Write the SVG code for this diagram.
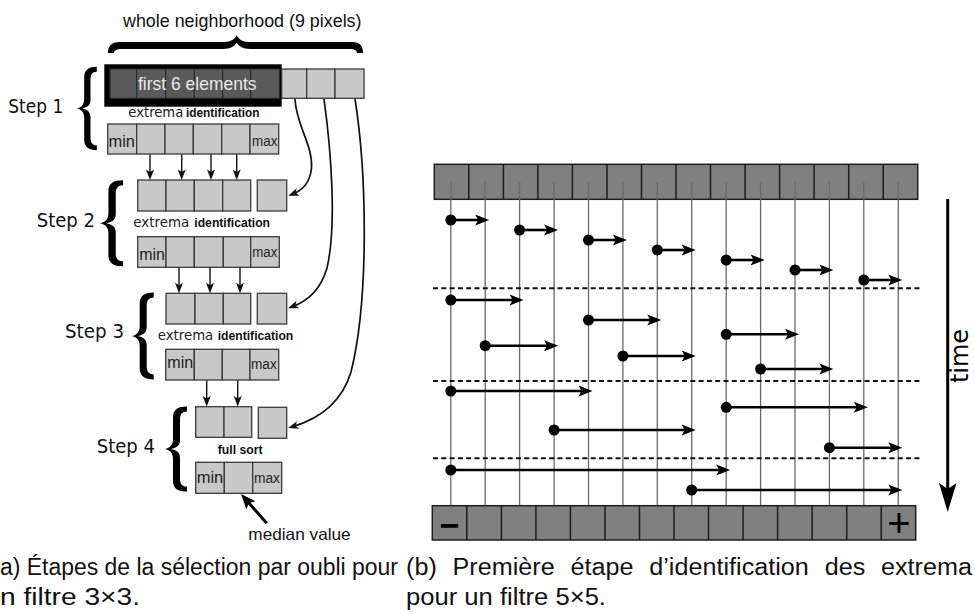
<svg xmlns="http://www.w3.org/2000/svg" width="975" height="614" viewBox="0 0 975 614">
<style>
.c{fill:#c8c8c8;stroke:#3a3a3a;stroke-width:1.3}
.d{fill:#5a5a5a;stroke:#2a2a2a;stroke-width:1}
.g{fill:#808080;stroke:#1e1e1e;stroke-width:1.5}
.dv{stroke:#1e1e1e;stroke-width:1.5;fill:none}
.vl{stroke:#6a6a6a;stroke-width:1.3}
.dash{stroke:#111;stroke-width:2;stroke-dasharray:5 3.3}
.arr{stroke:#000;stroke-width:2.6;marker-start:url(#dot);marker-end:url(#ah)}
.sa{stroke:#111;stroke-width:1.4;fill:none;marker-end:url(#ahs)}
.cv{stroke:#111;stroke-width:1.7;fill:none;marker-end:url(#ahs)}
.sans{font-family:"Liberation Sans",Arial,sans-serif}
.dj{font-family:"DejaVu Sans",sans-serif}
.step{font-family:"DejaVu Sans",sans-serif;font-size:19px;fill:#111}
.ext{font-family:"DejaVu Sans",sans-serif;font-size:13.5px;fill:#222}
.idf{font-family:"Liberation Sans",Arial,sans-serif;font-size:13.5px;font-weight:bold;fill:#111}
.mn{font-family:"Liberation Sans",Arial,sans-serif;font-size:17px;fill:#222}
.mx{font-family:"Liberation Sans",Arial,sans-serif;font-size:14px;fill:#222}
.cap{font-family:"Liberation Sans",Arial,sans-serif;font-size:23px;fill:#111}
</style>
<defs>
<marker id="ah" markerUnits="userSpaceOnUse" orient="auto" refX="0" refY="0" markerWidth="30" markerHeight="30" overflow="visible"><path d="M-6,-5.5 L8,0 L-6,5.5 L-3,0Z" fill="#000"/></marker>
<marker id="dot" markerUnits="userSpaceOnUse" orient="auto" refX="0" refY="0" markerWidth="20" markerHeight="20" overflow="visible"><circle r="5.5" fill="#000"/></marker>
<marker id="ahs" markerUnits="userSpaceOnUse" orient="auto" refX="0" refY="0" markerWidth="20" markerHeight="20" overflow="visible"><path d="M-5.5,-4 L5,0 L-5.5,4 L-3,0Z" fill="#111"/></marker>
<marker id="ahm" markerUnits="userSpaceOnUse" orient="auto" refX="0" refY="0" markerWidth="30" markerHeight="30" overflow="visible"><path d="M-7,-6 L8,0 L-7,6 L-4,0Z" fill="#000"/></marker>
<path id="br" d="M22,-43 C13,-43 8,-40 8,-32 L8,-10 C8,-4 5,-1 0,0 C5,1 8,4 8,10 L8,32 C8,40 13,43 22,43 L22,38 C17,38 15,35 15,30 L15,9 C15,3 11,1 6,0 C11,-1 15,-3 15,-9 L15,-30 C15,-35 17,-38 22,-38 Z" fill="#000"/>
</defs>
<rect width="975" height="614" fill="#fff"/>

<!-- ===== Left panel ===== -->
<g id="whole-neighborhood">
<text class="sans" x="123" y="26.7" font-size="19" textLength="238.5" lengthAdjust="spacingAndGlyphs" fill="#111">whole neighborhood (9 pixels)</text>
<path d="M108,53 C108,46 111,42 120,42 L224,42 C231,42 235,39 236.7,35 C238.5,39 242,42 249,42 L352,42 C360,42 363,46 363,53 L357,53 C357,51 355,49 350,49 L250,49 C243,49 239,46 236.7,43 C234.5,46 230,49 223,49 L122,49 C116,49 114,51 114,53 Z" fill="#000"/>
</g>

<g id="step1-input">
<rect x="104.3" y="64.3" width="177.4" height="42.4" fill="#000"/>
<rect class="d" x="110" y="69" width="26.7" height="29.3"/>
<rect class="d" x="136.7" y="69" width="29" height="29.3"/>
<rect class="d" x="165.7" y="69" width="28.6" height="29.3"/>
<rect class="d" x="194.3" y="69" width="28.4" height="29.3"/>
<rect class="d" x="222.7" y="69" width="28" height="29.3"/>
<rect class="d" x="250.7" y="69" width="28.6" height="29.3"/>
<text class="sans" x="138" y="90" font-size="18.5" textLength="118.5" lengthAdjust="spacingAndGlyphs" fill="#e8e8e8">first 6 elements</text>
<rect class="c" x="281.7" y="69" width="25" height="29.3"/>
<rect class="c" x="306.7" y="69" width="28.3" height="29.3"/>
<rect class="c" x="335" y="69" width="29" height="29.3"/>
</g>

<g id="step1">
<text class="step" x="8.3" y="113" textLength="55" lengthAdjust="spacingAndGlyphs">Step 1</text>
<use href="#br" transform="translate(77,108.5) scale(0.9,0.97)"/>
<text class="ext" x="128.3" y="116.7" textLength="55" lengthAdjust="spacingAndGlyphs">extrema</text>
<text class="idf" x="186" y="116.7" textLength="73.5" lengthAdjust="spacingAndGlyphs">identification</text>
<rect class="c" x="107.7" y="124" width="29" height="30"/>
<rect class="c" x="136.7" y="124" width="28.3" height="30"/>
<rect class="c" x="165" y="124" width="28.3" height="30"/>
<rect class="c" x="193.3" y="124" width="28.4" height="30"/>
<rect class="c" x="221.7" y="124" width="28.3" height="30"/>
<rect class="c" x="250" y="124" width="28.7" height="30"/>
<text class="mn" x="108.5" y="146.7" textLength="26.5" lengthAdjust="spacingAndGlyphs">min</text>
<text class="mx" x="252" y="146" textLength="25.5" lengthAdjust="spacingAndGlyphs">max</text>
</g>

<g id="step2">
<text class="step" x="36.7" y="227.3" textLength="58.3" lengthAdjust="spacingAndGlyphs">Step 2</text>
<use href="#br" transform="translate(100,223.3) scale(1.05,1)"/>
<rect class="c" x="137.7" y="180" width="28.3" height="31"/>
<rect class="c" x="166" y="180" width="28.3" height="31"/>
<rect class="c" x="194.3" y="180" width="28.4" height="31"/>
<rect class="c" x="222.7" y="180" width="28" height="31"/>
<rect class="c" x="257.3" y="180" width="29.4" height="31"/>
<text class="ext" x="133.3" y="227.3" textLength="56" lengthAdjust="spacingAndGlyphs">extrema</text>
<text class="idf" x="194.3" y="227.3" textLength="75.7" lengthAdjust="spacingAndGlyphs">identification</text>
<rect class="c" x="137.7" y="236.7" width="28.3" height="30.6"/>
<rect class="c" x="166" y="236.7" width="28.3" height="30.6"/>
<rect class="c" x="194.3" y="236.7" width="29" height="30.6"/>
<rect class="c" x="223.3" y="236.7" width="27.4" height="30.6"/>
<rect class="c" x="250.7" y="236.7" width="28.6" height="30.6"/>
<text class="mn" x="139.3" y="260" textLength="25.7" lengthAdjust="spacingAndGlyphs">min</text>
<text class="mx" x="252.3" y="257.3" textLength="25" lengthAdjust="spacingAndGlyphs">max</text>
</g>

<g id="step3">
<text class="step" x="65" y="337.7" textLength="59" lengthAdjust="spacingAndGlyphs">Step 3</text>
<use href="#br" transform="translate(131.7,336) scale(1,1.01)"/>
<rect class="c" x="166" y="293.3" width="29" height="30.7"/>
<rect class="c" x="195" y="293.3" width="28.3" height="30.7"/>
<rect class="c" x="223.3" y="293.3" width="27.4" height="30.7"/>
<rect class="c" x="257.3" y="293.3" width="29.4" height="30.7"/>
<text class="ext" x="157.7" y="340" textLength="55.6" lengthAdjust="spacingAndGlyphs">extrema</text>
<text class="idf" x="217.7" y="340" textLength="75.6" lengthAdjust="spacingAndGlyphs">identification</text>
<rect class="c" x="165.7" y="349.3" width="28.6" height="30.7"/>
<rect class="c" x="194.3" y="349.3" width="28" height="30.7"/>
<rect class="c" x="222.3" y="349.3" width="27.7" height="30.7"/>
<rect class="c" x="250" y="349.3" width="28.7" height="30.7"/>
<text class="mn" x="167.3" y="368.3" textLength="26" lengthAdjust="spacingAndGlyphs">min</text>
<text class="mx" x="251" y="369" textLength="25.7" lengthAdjust="spacingAndGlyphs">max</text>
</g>

<g id="step4">
<text class="step" x="96.7" y="452.7" textLength="58.3" lengthAdjust="spacingAndGlyphs">Step 4</text>
<use href="#br" transform="translate(165,449) scale(1,0.99)"/>
<rect class="c" x="195.7" y="406.7" width="28.3" height="30.6"/>
<rect class="c" x="224" y="406.7" width="27.7" height="30.6"/>
<rect class="c" x="258.3" y="407.3" width="28.4" height="31"/>
<text class="idf" x="217.7" y="454" textLength="45" lengthAdjust="spacingAndGlyphs">full sort</text>
<rect class="c" x="195.7" y="462.3" width="28.6" height="31"/>
<rect class="c" x="224.3" y="462.3" width="28.4" height="31"/>
<rect class="c" x="252.7" y="462.3" width="29" height="31"/>
<text class="mn" x="196.7" y="483.3" textLength="26.6" lengthAdjust="spacingAndGlyphs">min</text>
<text class="mx" x="254" y="483" textLength="26" lengthAdjust="spacingAndGlyphs">max</text>
</g>

<g id="median-label">
<text class="sans" x="248.3" y="540" font-size="16.5" textLength="102.4" lengthAdjust="spacingAndGlyphs" fill="#111">median value</text>
</g>

<!-- ===== Right panel ===== -->
<g id="input-row">
<rect class="g" x="434.3" y="164.3" width="483.4" height="35"/>
<path class="dv" d="M468.8,164.3V199.3M503.4,164.3V199.3M537.9,164.3V199.3M572.4,164.3V199.3M607,164.3V199.3M641.5,164.3V199.3M676,164.3V199.3M710.5,164.3V199.3M745.1,164.3V199.3M779.6,164.3V199.3M814.1,164.3V199.3M848.7,164.3V199.3M883.2,164.3V199.3"/>
</g>

<g id="timelines">
<path class="vl" d="M450.8,182V505.7M485.2,182V505.7M519.6,182V505.7M554.1,182V505.7M588.5,182V505.7M622.9,182V505.7M657.3,182V505.7M691.7,182V505.7M726.2,182V505.7M760.6,182V505.7M795,182V505.7M829.4,182V505.7M863.8,182V505.7M898.3,182V505.7"/>
<line class="dash" x1="433" y1="288.3" x2="920" y2="288.3"/>
<line class="dash" x1="433" y1="381" x2="920" y2="381"/>
<line class="dash" x1="433" y1="458.3" x2="920" y2="458.3"/>
</g>

<g id="sorted-row">
<rect class="g" x="432.3" y="505.7" width="483.4" height="34.3"/>
<path class="dv" d="M466.8,505.7V540M501.4,505.7V540M535.9,505.7V540M570.4,505.7V540M605,505.7V540M639.5,505.7V540M674,505.7V540M708.5,505.7V540M743.1,505.7V540M777.6,505.7V540M812.1,505.7V540M846.7,505.7V540M881.2,505.7V540"/>
<text class="sans" x="449.7" y="536.5" font-size="34" font-weight="bold" text-anchor="middle" fill="#000">−</text>
<text class="sans" x="899" y="536.7" font-size="40" text-anchor="middle" fill="#000">+</text>
</g>

<g id="time-axis">
<line x1="947.7" y1="199" x2="947.7" y2="490" stroke="#000" stroke-width="3"/>
<path d="M939,483 L947.7,489 L956.5,483 L947.7,512 Z" fill="#000"/>
<text class="dj" transform="translate(968,356) rotate(-90)" font-size="24" text-anchor="middle" fill="#000">time</text>
</g>

<!-- ===== Connectors ===== -->
<g id="connectors">
<line class="sa" x1="150" y1="154.5" x2="150" y2="175"/>
<line class="sa" x1="181.7" y1="154.5" x2="181.7" y2="175"/>
<line class="sa" x1="211" y1="154.5" x2="211" y2="175"/>
<line class="sa" x1="236.7" y1="154.5" x2="236.7" y2="175"/>
<line class="sa" x1="179" y1="267.5" x2="179" y2="288.3"/>
<line class="sa" x1="210" y1="267.5" x2="210" y2="288.3"/>
<line class="sa" x1="240" y1="267.5" x2="240" y2="288.3"/>
<line class="sa" x1="206.7" y1="380.5" x2="206.7" y2="401.5"/>
<line class="sa" x1="237.7" y1="380.5" x2="237.7" y2="401.5"/>
<path class="cv" d="M295,99 C296,125 313,145 311.5,168 C310,183 302,190.5 292.9,193.9"/>
<path class="cv" d="M324,99 C331,150 337,225 327,268 C320,292 305,302 292.7,306.5"/>
<path class="cv" d="M355,99 C367,175 369,300 351,372 C341,405 315,420 292.8,426.6"/>
<line x1="266.7" y1="523.3" x2="246.3" y2="500" stroke="#000" stroke-width="3" marker-end="url(#ahm)"/>

<line class="arr" x1="450.8" y1="220" x2="481.2" y2="220"/>
<line class="arr" x1="519.6" y1="230" x2="550.1" y2="230"/>
<line class="arr" x1="588.5" y1="240" x2="618.9" y2="240"/>
<line class="arr" x1="657.3" y1="250" x2="687.7" y2="250"/>
<line class="arr" x1="726.2" y1="260" x2="756.6" y2="260"/>
<line class="arr" x1="795" y1="270" x2="825.4" y2="270"/>
<line class="arr" x1="863.8" y1="280" x2="894.3" y2="280"/>
<line class="arr" x1="450.8" y1="300" x2="515.6" y2="300"/>
<line class="arr" x1="588.5" y1="320" x2="653.3" y2="320"/>
<line class="arr" x1="726.2" y1="334.3" x2="791" y2="334.3"/>
<line class="arr" x1="485.2" y1="345.7" x2="550.1" y2="345.7"/>
<line class="arr" x1="622.9" y1="356" x2="687.7" y2="356"/>
<line class="arr" x1="760.6" y1="369" x2="825.4" y2="369"/>
<line class="arr" x1="450.8" y1="391" x2="584.5" y2="391"/>
<line class="arr" x1="726.2" y1="407.3" x2="859.8" y2="407.3"/>
<line class="arr" x1="554.1" y1="430" x2="687.7" y2="430"/>
<line class="arr" x1="829.4" y1="447.7" x2="894.3" y2="447.7"/>
<line class="arr" x1="450.8" y1="470" x2="722.2" y2="470"/>
<line class="arr" x1="691.7" y1="490" x2="894.3" y2="490"/>
</g>

<!-- ===== Captions ===== -->
<g id="captions">
<text class="cap" x="0" y="575" textLength="398" lengthAdjust="spacingAndGlyphs">a) Étapes de la sélection par oubli pour</text>
<text class="cap" x="0" y="605" textLength="140" lengthAdjust="spacingAndGlyphs">n filtre 3×3.</text>
<text class="cap" x="406" y="575" word-spacing="8" textLength="566" lengthAdjust="spacingAndGlyphs">(b) Première étape d’identification des extrema</text>
<text class="cap" x="406" y="605" textLength="200" lengthAdjust="spacingAndGlyphs">pour un filtre 5×5.</text>
</g>
</svg>
